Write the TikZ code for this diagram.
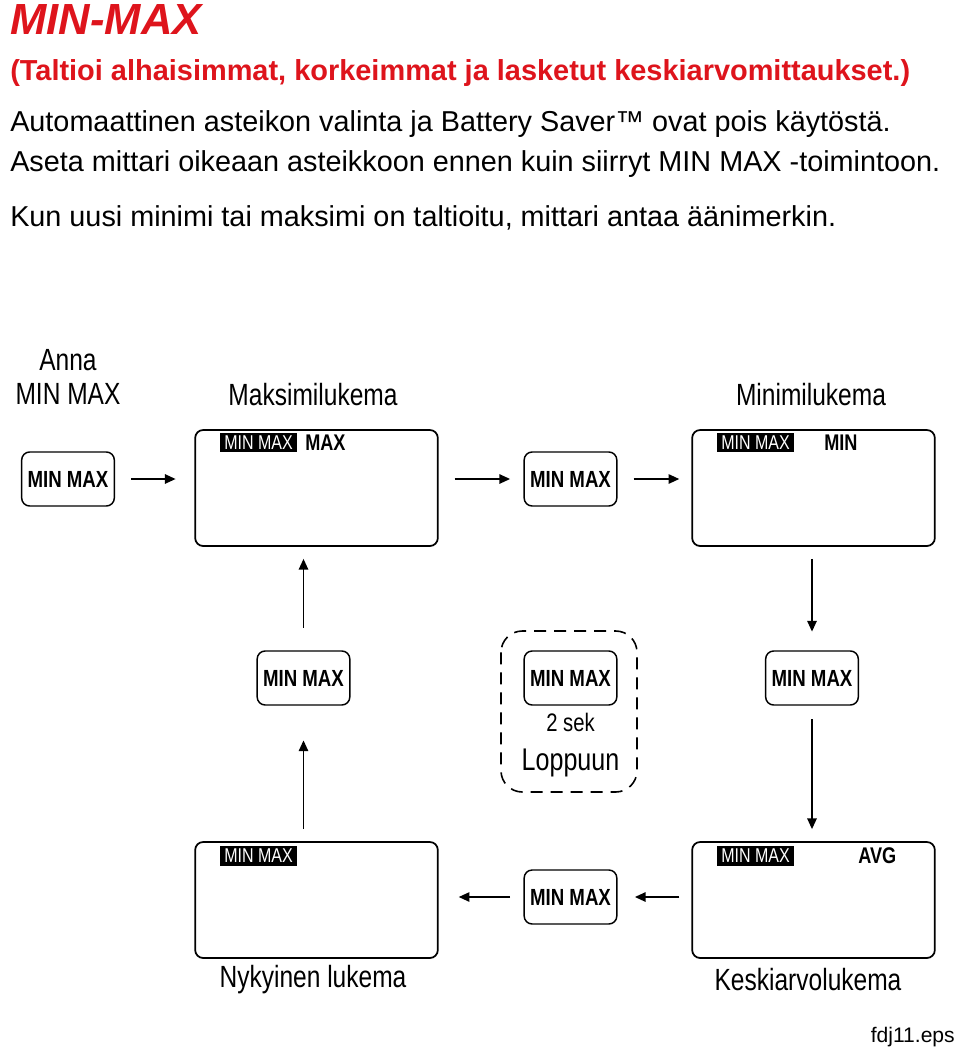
\documentclass[tikz,border=0pt]{standalone}
\usepackage{fontspec}
\setmainfont{Liberation Sans}
\newfontfamily\narrowfont[FakeStretch=0.80]{Liberation Sans}
\usepackage{tikz}
\usetikzlibrary{arrows.meta,positioning,calc}
\usepackage{xcolor}
\definecolor{flukered}{RGB}{222,20,28}

\begin{document}
\begin{tikzpicture}[
        x=0.75pt, y=-0.75pt,
        display/.style={rectangle,draw,line width=1.3pt,rounded corners=6pt,minimum width=182pt,minimum height=87pt},
        keybox/.style={rectangle,draw,line width=1.1pt,rounded corners=6pt,minimum width=69.5pt,minimum height=40.5pt,font=\narrowfont\bfseries\fontsize{17.5}{17.5}\selectfont},
        tag/.style={rectangle,fill=black,text=white,inner sep=0pt,minimum width=57.5pt,minimum height=14.5pt,font=\narrowfont\fontsize{15}{15}\selectfont},
        mode/.style={anchor=west,inner sep=0pt,font=\narrowfont\bfseries\fontsize{17}{17}\selectfont},
        caption/.style={inner sep=0pt,font=\narrowfont\fontsize{23}{26}\selectfont,align=center},
        arrow/.style={-{Triangle[length=8pt,width=7pt]},line width=1.2pt}
    ]
        \useasboundingbox (0,0) rectangle (960,1050);

        % header text
        \node[anchor=base west,inner sep=0pt,text=flukered,font=\bfseries\itshape\fontsize{32.7}{33}\selectfont] (title) at (10,34) {MIN-MAX};
        \node[anchor=base west,inner sep=0pt,text=flukered,font=\bfseries\fontsize{21.7}{24}\selectfont] (line1) at (10,80) {(Taltioi alhaisimmat, korkeimmat ja lasketut keskiarvomittaukset.)};
        \node[anchor=base west,inner sep=0pt,font=\fontsize{21.6}{24}\selectfont] (line2) at (10,131) {Automaattinen asteikon valinta ja Battery Saver™ ovat pois käytöstä.};
        \node[anchor=base west,inner sep=0pt,font=\fontsize{21.6}{24}\selectfont] (line3) at (10,171) {Aseta mittari oikeaan asteikkoon ennen kuin siirryt MIN MAX -toimintoon.};
        \node[anchor=base west,inner sep=0pt,font=\fontsize{21.6}{24}\selectfont] (line4) at (10,226) {Kun uusi minimi tai maksimi on taltioitu, mittari antaa äänimerkin.};

        % top row
        \node[caption] (anna) at (68,377) {Anna\\MIN MAX};
        \node[keybox] (kstart) at (68,479) {MIN MAX};
        \node[display] (maxd) at (316.5,488) {};
        \node[caption] (maxlbl) at (313,395) {Maksimilukema};
        \node[keybox] (ktop) at (570.5,479) {MIN MAX};
        \node[display] (mind) at (813.5,488) {};
        \node[caption] (minlbl) at (811,395) {Minimilukema};

        % middle row
        \node[keybox] (kleft) at (303.5,678) {MIN MAX};
        \node[keybox] (kmid) at (570.5,678) {MIN MAX};
        \node[keybox] (kright) at (812,678) {MIN MAX};
        \node[caption,font=\narrowfont\fontsize{19}{20}\selectfont] (sek) at (570.5,722) {2 sek};
        \node[caption,font=\narrowfont\fontsize{23.5}{26}\selectfont] (loppu) at (570.5,763) {Loppuun};
        \draw[dashed,dash pattern=on 9pt off 6pt,line width=1.2pt,rounded corners=16pt] (501,631) rectangle (637,792);

        % bottom row
        \node[display] (nowd) at (316.5,900) {};
        \node[caption] (nowlbl) at (313,980) {Nykyinen lukema};
        \node[keybox] (kbot) at (570.5,897) {MIN MAX};
        \node[display] (avgd) at (813.5,900) {};
        \node[caption] (avglbl) at (808,980) {Keskiarvolukema};

        % display annunciators
        \node[tag] (tmax) at (258.5,442.5) {MIN MAX};
        \node[mode] (wmax) at (305,442.5) {MAX};
        \node[tag] (tmin) at (755.5,442.5) {MIN MAX};
        \node[mode] (wmin) at (824,442.5) {MIN};
        \node[tag] (tnow) at (258.5,856) {MIN MAX};
        \node[tag] (tavg) at (755.5,856) {MIN MAX};
        \node[mode] (wavg) at (858,856) {AVG};

        \node[anchor=base east,inner sep=0pt,font=\fontsize{15.8}{16}\selectfont] (fname) at (955,1042) {fdj11.eps};

        % arrows
        \draw[arrow,shorten <=12pt,shorten >=14pt] (kstart.east) -- (maxd.west |- kstart.east);
        \draw[arrow,shorten <=12pt,shorten >=10pt] (maxd.east |- ktop.west) -- (ktop.west);
        \draw[arrow,shorten <=12pt,shorten >=9pt] (ktop.east) -- (mind.west |- ktop.east);
        \draw[arrow,shorten <=9pt,shorten >=14pt] (kright.north |- mind.south) -- (kright.north);
        \draw[arrow,shorten <=10pt,shorten >=9pt] (kright.south) -- (kright.south |- avgd.north);
        \draw[arrow,shorten <=9pt,shorten >=13pt] (avgd.west |- kbot.east) -- (kbot.east);
        \draw[arrow,shorten <=10pt,shorten >=15pt] (kbot.west) -- (nowd.east |- kbot.west);
        \draw[arrow,shorten <=9pt,shorten >=26pt] (kleft.south |- nowd.north) -- (kleft.south);
        \draw[arrow,shorten <=17pt,shorten >=9pt] (kleft.north) -- (kleft.north |- maxd.south);
    \end{tikzpicture}
\end{document}
